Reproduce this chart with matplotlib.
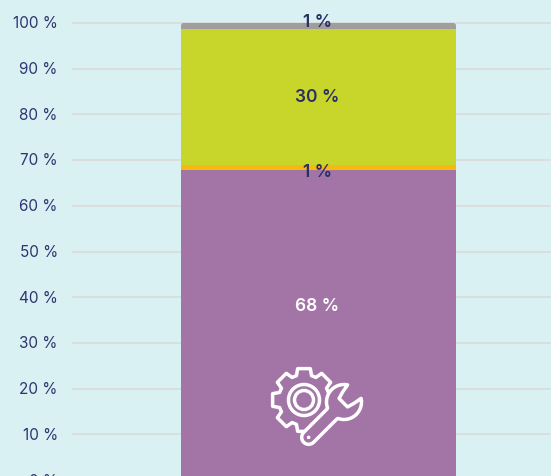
import numpy as np
import matplotlib
matplotlib.use('Agg')
import matplotlib.pyplot as plt
from matplotlib.patches import Polygon, Circle, FancyBboxPatch
from matplotlib.transforms import IdentityTransform, ScaledTranslation

plt.rcParams['font.family'] = ['Inter', 'DejaVu Sans']

# values
segments = [67.9, 1.1, 29.7, 1.3]
seg_colors = ['#a375a6', '#f8b90f', '#c8d62b', '#a09d9e']
seg_labels = ['68 %', '1 %', '30 %', '1 %']
label_colors = ['white', '#2b2f66', '#2b2f66', '#2b2f66']
label_y = [38.1, 67.6, 84.0, 100.2]
ticks = [0, 10, 20, 30, 40, 50, 60, 70, 80, 90, 100]
tick_labels = ['%d %%' % t for t in ticks]

bg = '#d9f1f2'
W, H = 551, 477

fig = plt.figure(figsize=(W / 100, H / 100), dpi=100, facecolor=bg)
ax = fig.add_axes([72 / W, (H - 481.2) / H, (W - 72) / W, 480.2 / H], facecolor=bg)

bottom = 0
bars = []
for val, col in zip(segments, seg_colors):
    bars.append(ax.bar(0, val, width=1, bottom=bottom, color=col, linewidth=0, zorder=2)[0])
    bottom += val

ax.set_xlim(-0.5 - 109 / 275, 0.5 + 95 / 275)
ax.set_ylim(0, 105)
ax.set_xticks([])
ax.set_yticks(ticks)
ax.set_yticklabels(tick_labels, fontsize=11, color='#2f3570')
ax.tick_params(axis='y', length=0, pad=10.2)
ax.grid(axis='y', color='#d9dcdc', linewidth=1.2, zorder=0)
ax.set_axisbelow(True)
for s in ax.spines.values():
    s.set_visible(False)

# tick labels sit a little above their gridlines
nudge = ScaledTranslation(0, 1.6 / 100, fig.dpi_scale_trans)
for t in ax.get_yticklabels():
    t.set_transform(t.get_transform() + nudge)

for lab, y, c in zip(seg_labels, label_y, label_colors):
    ax.text(-0.005, y, lab, ha='center', va='center', color=c,
            fontsize=12.5, fontweight='semibold', zorder=4)

# small rounding on the top of the stack
fig.canvas.draw()
ext = bars[-1].get_window_extent()
rounded = FancyBboxPatch((ext.x0, ext.y0 - 10), ext.width, ext.height + 10,
                         boxstyle='round,pad=0,rounding_size=3',
                         transform=IdentityTransform())
bars[-1].set_clip_path(rounded)

# icon, drawn in pixel coordinates on a transparent overlay
ic = fig.add_axes([0, 0, 1, 1], facecolor='none')
ic.set_xlim(0, W)
ic.set_ylim(H, 0)
ic.axis('off')
line = dict(edgecolor='white', linewidth=2.5, joinstyle='round', zorder=5)
purple = seg_colors[0]

# gear outline
cx, cy = 304, 401
n_teeth = 8
pts = []
for i in range(n_teeth):
    a = 2 * np.pi * i / n_teeth
    for r, da in [(25.5, -0.3), (32, -0.2), (32, 0.2), (25.5, 0.3)]:
        pts.append((cx + r * np.cos(a + da), cy + r * np.sin(a + da)))
ic.add_patch(Polygon(pts, closed=True, facecolor='none', **line))
ic.add_patch(Circle((cx, cy), 15.5, facecolor='none', **line))
ic.add_patch(Circle((cx, cy), 9.5, facecolor='none', **line))

# wrench, filled so it cuts through the gear outline
head = np.array([344, 403])  # head centre
u = np.array([1, -1]) / np.sqrt(2)
v = np.array([1, 1]) / np.sqrt(2)


def local(a, b):
    return head + a * u + b * v


w = []
for t in np.linspace(np.radians(33), np.radians(155), 18):
    w.append(local(17.5 * np.cos(t), 17.5 * np.sin(t)))
w.append(local(-17, 7))
w.append(local(-50, 7))
for t in np.linspace(np.pi / 2, 3 * np.pi / 2, 12):
    w.append(local(-50 + 7 * np.cos(t), 7 * np.sin(t)))
w.append(local(-17, -7))
for t in np.linspace(np.radians(205), np.radians(327), 18):
    w.append(local(17.5 * np.cos(t), 17.5 * np.sin(t)))
w += [local(6, -8), local(-1, -6), local(-1, 6), local(6, 8)]
ic.add_patch(Polygon(w, closed=True, facecolor=purple, **line))
ic.add_patch(Circle(tuple(local(-50, 0)), 1.8, facecolor='white', edgecolor='none', zorder=6))

fig.savefig('out.png', dpi=100, facecolor=bg)
plt.close('all')
